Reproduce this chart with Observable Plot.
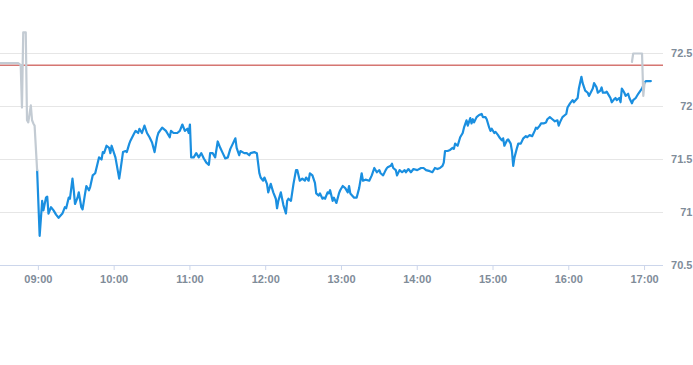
<!DOCTYPE html>
<html><head><meta charset="utf-8">
<script src="https://cdn.jsdelivr.net/npm/d3@7"></script>
<script src="https://cdn.jsdelivr.net/npm/@observablehq/plot@0.6"></script>
<style>html,body{margin:0;padding:0;background:#fff} svg{display:block}</style>
</head><body><div id="chart"></div>
<script>
// Main session (blue) – [time, price]
const xetra = [
["08:59",71.40],["09:01",70.78],["09:03",71.11],["09:04",71.02],["09:06",71.14],["09:07",71.15],["09:08",70.99],["09:10",71.05],
["09:12",71.02],["09:14",70.98],["09:16",70.95],["09:19",70.99],["09:21",71.05],["09:22",71.04],["09:24",71.14],["09:25",71.13],
["09:27",71.32],["09:28",71.21],["09:29",71.08],["09:31",71.14],["09:32",71.19],["09:34",71.05],["09:35",71.03],["09:37",71.18],
["09:38",71.25],["09:40",71.21],["09:41",71.24],["09:43",71.35],["09:45",71.37],["09:47",71.47],["09:48",71.52],["09:50",71.50],
["09:51",71.57],["09:52",71.56],["09:54",71.63],["09:56",71.61],["09:57",71.56],["09:58",71.63],["10:01",71.52],["10:04",71.32],
["10:05",71.40],["10:07",71.57],["10:09",71.58],["10:10",71.57],["10:12",71.65],["10:13",71.68],["10:16",71.75],["10:17",71.77],
["10:19",71.75],["10:20",71.79],["10:22",71.75],["10:24",71.82],["10:26",71.75],["10:28",71.71],["10:30",71.66],["10:32",71.57],
["10:34",71.71],["10:35",71.75],["10:38",71.80],["10:41",71.77],["10:42",71.75],["10:44",71.71],["10:45",71.77],["10:47",71.75],
["10:50",71.75],["10:52",71.77],["10:54",71.83],["10:56",71.77],["10:58",71.79],["10:59",71.75],["11:00",71.83],["11:01",71.52],
["11:03",71.52],["11:05",71.56],["11:07",71.52],["11:09",71.56],["11:11",71.51],["11:13",71.47],["11:15",71.45],["11:16",71.56],
["11:18",71.56],["11:20",71.52],["11:22",71.67],["11:24",71.61],["11:26",71.56],["11:28",71.51],["11:30",71.52],["11:32",71.60],
["11:34",71.65],["11:36",71.70],["11:37",71.61],["11:39",71.54],["11:40",71.58],["11:43",71.56],["11:45",71.56],["11:47",71.54],
["11:48",71.56],["11:51",71.57],["11:53",71.56],["11:55",71.37],["11:56",71.33],["11:58",71.30],["11:59",71.33],["12:01",71.27],
["12:02",71.19],["12:04",71.27],["12:06",71.19],["12:08",71.13],["12:09",71.04],["12:10",71.11],["12:12",71.19],["12:13",71.13],
["12:14",71.07],["12:16",70.99],["12:17",71.11],["12:18",71.13],["12:20",71.11],["12:22",71.27],["12:24",71.40],["12:25",71.40],
["12:27",71.30],["12:29",71.32],["12:31",71.30],["12:32",71.33],["12:34",71.30],["12:35",71.37],["12:37",71.35],["12:39",71.28],
["12:40",71.18],["12:42",71.16],["12:43",71.18],["12:45",71.13],["12:46",71.14],["12:47",71.13],["12:49",71.19],["12:50",71.18],
["12:51",71.21],["12:53",71.11],["12:54",71.14],["12:56",71.09],["12:58",71.18],["12:59",71.21],["13:01",71.25],["13:03",71.23],
["13:05",71.19],["13:06",71.25],["13:07",71.18],["13:10",71.14],["13:12",71.14],["13:14",71.23],["13:16",71.37],["13:17",71.30],
["13:19",71.31],["13:22",71.30],["13:24",71.35],["13:26",71.42],["13:28",71.38],["13:30",71.40],["13:31",71.37],["13:33",71.35],
["13:35",71.40],["13:36",71.42],["13:37",71.43],["13:39",71.44],["13:40",71.46],["13:41",71.42],["13:43",71.40],["13:44",71.35],
["13:46",71.40],["13:48",71.38],["13:50",71.40],["13:51",71.38],["13:53",71.41],["13:55",71.38],["13:57",71.41],["14:00",71.40],
["14:03",71.42],["14:05",71.42],["14:07",71.40],["14:10",71.39],["14:12",71.38],["14:14",71.42],["14:16",71.41],["14:18",71.42],
["14:20",71.44],["14:21",71.47],["14:22",71.58],["14:24",71.58],["14:26",71.59],["14:28",71.61],["14:29",71.60],["14:30",71.65],
["14:32",71.63],["14:34",71.71],["14:36",71.75],["14:37",71.80],["14:39",71.87],["14:40",71.82],["14:42",71.89],["14:43",71.84],
["14:44",71.88],["14:45",71.85],["14:47",71.90],["14:49",71.92],["14:51",71.93],["14:52",71.90],["14:54",71.90],["14:55",71.88],
["14:57",71.80],["14:58",71.77],["14:59",71.79],["15:01",71.75],["15:02",71.76],["15:04",71.73],["15:05",71.71],["15:07",71.68],
["15:08",71.70],["15:09",71.63],["15:11",71.68],["15:12",71.69],["15:14",71.65],["15:15",71.58],["15:16",71.44],["15:17",71.52],
["15:19",71.61],["15:20",71.65],["15:22",71.65],["15:24",71.70],["15:26",71.72],["15:27",71.71],["15:29",71.73],["15:31",71.72],
["15:33",71.77],["15:34",71.80],["15:35",71.79],["15:37",71.82],["15:38",71.84],["15:40",71.84],["15:42",71.85],["15:43",71.88],
["15:45",71.90],["15:47",71.88],["15:49",71.86],["15:51",71.87],["15:52",71.82],["15:53",71.85],["15:55",71.90],["15:57",71.92],
["15:58",71.93],["15:59",71.99],["16:01",72.03],["16:03",72.06],["16:04",72.04],["16:07",72.08],["16:08",72.17],["16:10",72.28],
["16:11",72.22],["16:13",72.15],["16:15",72.13],["16:16",72.10],["16:19",72.17],["16:20",72.22],["16:22",72.18],["16:23",72.13],
["16:25",72.15],["16:26",72.18],["16:27",72.13],["16:29",72.13],["16:30",72.14],["16:32",72.10],["16:33",72.08],["16:34",72.04],
["16:36",72.07],["16:37",72.08],["16:38",72.06],["16:40",72.08],["16:41",72.04],["16:42",72.17],["16:43",72.15],["16:44",72.13],
["16:45",72.10],["16:47",72.12],["16:48",72.08],["16:50",72.03],["16:51",72.06],["16:53",72.08],["16:55",72.12],["16:58",72.17],
["16:59",72.20],["17:01",72.24],["17:05",72.24]
];
// Off-session trades (grey)
const preMarket = [
["08:30",72.41],["08:44",72.41],["08:46",72.39],["08:47",71.99],["08:48",72.70],["08:50",72.70],["08:51",71.87],
["08:52",71.85],["08:54",72.01],["08:55",71.87],["08:56",71.84],["08:57",71.82],["08:59",71.40]
];
const postMarket = [
["16:50",72.42],["16:51",72.50],["16:58",72.50],["16:59",72.10],["17:00",72.22]
];
const prevClose = 72.39;
const yTicks = [70.5, 71, 71.5, 72, 72.5];
const xTicks = ["09:00","10:00","11:00","12:00","13:00","14:00","15:00","16:00","17:00"];
const xDomain = ["08:30","17:15"];
const yDomain = [70.5, 73];

const toDate = s => { const [h, m] = s.split(":").map(Number); return new Date(Date.UTC(2024, 0, 2, h, m)); };
const rows = arr => arr.map(([t, v]) => ({t: toDate(t), v}));

const labelColor = "#7f8c99";
const chart = Plot.plot({
  width: 693, height: 365,
  marginLeft: 0, marginRight: 30, marginTop: 0, marginBottom: 100,
  style: {fontFamily: "'Liberation Sans', Arial, sans-serif", fontSize: "11px", background: "#fff"},
  x: {type: "utc", domain: xDomain.map(toDate)},
  y: {domain: yDomain, axis: null},
  marks: [
    Plot.ruleY(yTicks.slice(1), {stroke: "#e6e6e6", strokeWidth: 1}),
    Plot.ruleY([yTicks[0]], {stroke: "#ccd6eb", strokeWidth: 1}),
    Plot.ruleY([prevClose], {stroke: "#c0302a", strokeWidth: 1}),
    Plot.line(rows(xetra), {x: "t", y: "v", stroke: "#1a8fe0", strokeWidth: 2.2}),
    Plot.line(rows(preMarket), {x: "t", y: "v", stroke: "#c3cbd3", strokeWidth: 2.2}),
    Plot.line(rows(postMarket), {x: "t", y: "v", stroke: "#c3cbd3", strokeWidth: 2.2}),
    Plot.axisX({ticks: xTicks.map(toDate), tickFormat: d3.utcFormat("%H:%M"), tickSize: 5, tickPadding: 5,
      stroke: "#ccd6eb", fill: labelColor, fontWeight: "bold", fontSize: 11, label: null}),
    Plot.text(yTicks, {y: d => d, text: d => String(d), frameAnchor: "right", textAnchor: "end", dx: 29,
      fill: labelColor, fontWeight: "bold", fontSize: 11})
  ]
});
document.getElementById("chart").appendChild(chart);
</script>
</body></html>
